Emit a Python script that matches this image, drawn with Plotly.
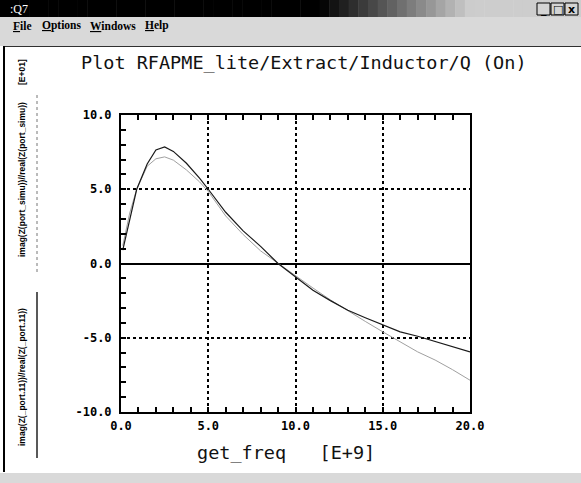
import plotly.graph_objects as go

# ---------------- data ----------------
freq = [0.1, 0.5, 0.9, 1.5, 2.0, 2.5, 3.0, 3.75, 4.5, 5.0, 6.0, 7.0, 8.0, 9.0,
        10.0, 11.0, 12.0, 13.0, 14.0, 15.0, 16.0, 17.0, 18.0, 19.0, 20.0]
q_meas = [0.9, 2.9, 5.0, 6.7, 7.65, 7.85, 7.55, 6.75, 5.75, 5.0, 3.45, 2.2, 1.15, 0.0,
          -0.9, -1.8, -2.5, -3.15, -3.65, -4.1, -4.6, -4.9, -5.25, -5.6, -5.95]
q_simu = [1.2, 3.4, 5.0, 6.55, 7.05, 7.18, 6.96, 6.3, 5.5, 4.85, 3.2, 1.95, 0.85, 0.0,
          -0.85, -1.65, -2.45, -3.2, -3.9, -4.6, -5.27, -5.95, -6.5, -7.15, -7.86]

x_ticks = [0, 5, 10, 15, 20]
x_ticklabels = ["0.0", "5.0", "10.0", "15.0", "20.0"]
y_ticks = [-10, -5, 0, 5, 10]
y_ticklabels = ["-10.0", "-5.0", "0.0", "5.0", "10.0"]

title_text = "Plot RFAPME_lite/Extract/Inductor/Q (On)"
xlabel_text = "get_freq   [E+9]"
scale_text = "[E+01]"
legend_simu = "imag(Z(port_simu))//real(Z(port_simu))"
legend_meas = "imag(Z(_port.11))//real(Z(_port.11))"
window_title = ":Q7"
menu_items = ["<u>F</u>ile", "<u>O</u>ptions", "<u>W</u>indows", "<u>H</u>elp"]

# ---------------- geometry ----------------
W, H = 581, 483
L, R, T, B = 121, 111, 115, 71
PW, PH = W - L - R, H - T - B


def px(x):
    return (x - L) / PW


def py(y):
    return (H - B - y) / PH


fig = go.Figure()
fig.add_trace(go.Scatter(x=freq, y=q_simu, mode="lines", name=legend_simu,
                         line=dict(color="#a0a0a0", width=1), showlegend=False))
fig.add_trace(go.Scatter(x=freq, y=q_meas, mode="lines", name=legend_meas,
                         line=dict(color="#1a1a1a", width=1.2), showlegend=False))
fig.add_trace(go.Scatter(x=[None], y=[None], xaxis="x2", showlegend=False,
                         hoverinfo="skip"))

shapes = []
# title bar gradient
n = 60
for i in range(n):
    x0 = W * i / n
    x1 = W * (i + 1) / n + 0.5
    c = (x0 + x1) / 2
    if c < 320:
        v = 0
    elif c < 470:
        v = int(205 * (c - 320) / 150)
    else:
        v = 205
    shapes.append(dict(type="rect", xref="paper", yref="paper",
                       x0=px(x0), x1=px(x1), y0=py(0), y1=py(17),
                       fillcolor=f"rgb({v},{v},{v})", line=dict(width=0), layer="below"))
# menu bar
shapes.append(dict(type="rect", xref="paper", yref="paper", x0=px(0), x1=px(W),
                   y0=py(17), y1=py(46), fillcolor="#d9d9d9", line=dict(width=0), layer="below"))
# bottom strip
shapes.append(dict(type="rect", xref="paper", yref="paper", x0=px(0), x1=px(W),
                   y0=py(473), y1=py(H), fillcolor="#d9d9d9", line=dict(width=0), layer="below"))
# content border
shapes.append(dict(type="line", xref="paper", yref="paper", x0=px(4), x1=px(W),
                   y0=py(46.5), y1=py(46.5), line=dict(color="#303030", width=1)))
shapes.append(dict(type="line", xref="paper", yref="paper", x0=px(4), x1=px(4),
                   y0=py(46), y1=py(472), line=dict(color="#000000", width=2)))
# window buttons
for bx in [537, 551, 565]:
    shapes.append(dict(type="rect", xref="paper", yref="paper", x0=px(bx), x1=px(bx + 13),
                       y0=py(3), y1=py(15), fillcolor="#d4d4d4",
                       line=dict(color="#000000", width=1), layer="below"))
# legend samples
shapes.append(dict(type="line", xref="paper", yref="paper", x0=px(37), x1=px(37),
                   y0=py(95), y1=py(272), line=dict(color="#777777", width=1, dash="dot")))
shapes.append(dict(type="line", xref="paper", yref="paper", x0=px(37), x1=px(37),
                   y0=py(292), y1=py(458), line=dict(color="#222222", width=1.5)))

annotations = []


def ann(text, x, y, size, family, color="#000000", xanchor="center", angle=0, yanchor="middle"):
    annotations.append(dict(text=text, x=px(x), y=py(y), xref="paper", yref="paper",
                            showarrow=False, xanchor=xanchor, yanchor=yanchor, textangle=angle,
                            font=dict(size=size, family=family, color=color)))


ann(window_title, 8, 9, 12, "Liberation Serif", color="#ffffff", xanchor="left")
for t, x in zip(["_", "□", "x"], [543.5, 557.5, 571.5]):
    ann("<b>%s</b>" % t, x, 9, 11, "DejaVu Sans")
mx = [11, 40, 88, 143]
for t, x in zip(menu_items, mx):
    ann("<b>%s</b>" % t, x, 26, 11.5, "Liberation Serif", xanchor="left")
ann(title_text, 79, 63, 18.5, "DejaVu Sans Mono", color="#111111", xanchor="left")
ann(xlabel_text, 195, 452, 18.5, "DejaVu Sans Mono", color="#111111", xanchor="left")
ann("<b>%s</b>" % scale_text, 22, 72, 8.5, "Liberation Sans", angle=-90)
ann("<b>%s</b>" % legend_simu, 22, 180, 8.5, "Liberation Sans", angle=-90)
ann("<b>%s</b>" % legend_meas, 22, 377, 8.5, "Liberation Sans", angle=-90)

tickfont = dict(family="DejaVu Sans Mono", size=12, color="#000000", weight="bold")
minor = dict(dtick=1, ticks="inside", ticklen=5, tickcolor="#000000", tickwidth=1.5,
             showgrid=False)

fig.update_layout(
    width=W, height=H,
    margin=dict(l=L, r=R, t=T, b=B),
    paper_bgcolor="#ffffff", plot_bgcolor="#ffffff",
    shapes=shapes, annotations=annotations,
    xaxis=dict(range=[0, 20], tickvals=x_ticks, ticktext=x_ticklabels,
               showline=True, linecolor="#000000", linewidth=2, mirror=True,
               ticks="inside", ticklen=5, tickcolor="#000000", tickwidth=1.5,
               showgrid=True, gridcolor="#000000", gridwidth=1.5, griddash="dot",
               zeroline=False, tickfont=tickfont, minor=minor, fixedrange=True,
               ticklabelstandoff=2),
    xaxis2=dict(range=[0, 20], overlaying="x", side="top", anchor="y",
                tickvals=x_ticks, showticklabels=False, showgrid=False, zeroline=False,
                ticks="inside", ticklen=5, tickcolor="#000000", tickwidth=1.5,
                minor=minor, showline=False, fixedrange=True),
    yaxis=dict(range=[-10, 10], tickvals=y_ticks, ticktext=y_ticklabels,
               showline=True, linecolor="#000000", linewidth=2, mirror=True,
               ticks="inside", ticklen=5, tickcolor="#000000", tickwidth=1.5,
               showgrid=True, gridcolor="#000000", gridwidth=1.5, griddash="dot",
               zeroline=True, zerolinecolor="#000000", zerolinewidth=1.5,
               tickfont=tickfont, minor=minor, fixedrange=True,
               ticklabelstandoff=5),
)

fig.write_html("out.html", config={"displayModeBar": False},
               post_script="document.body.style.margin='0';document.body.style.padding='0';")
